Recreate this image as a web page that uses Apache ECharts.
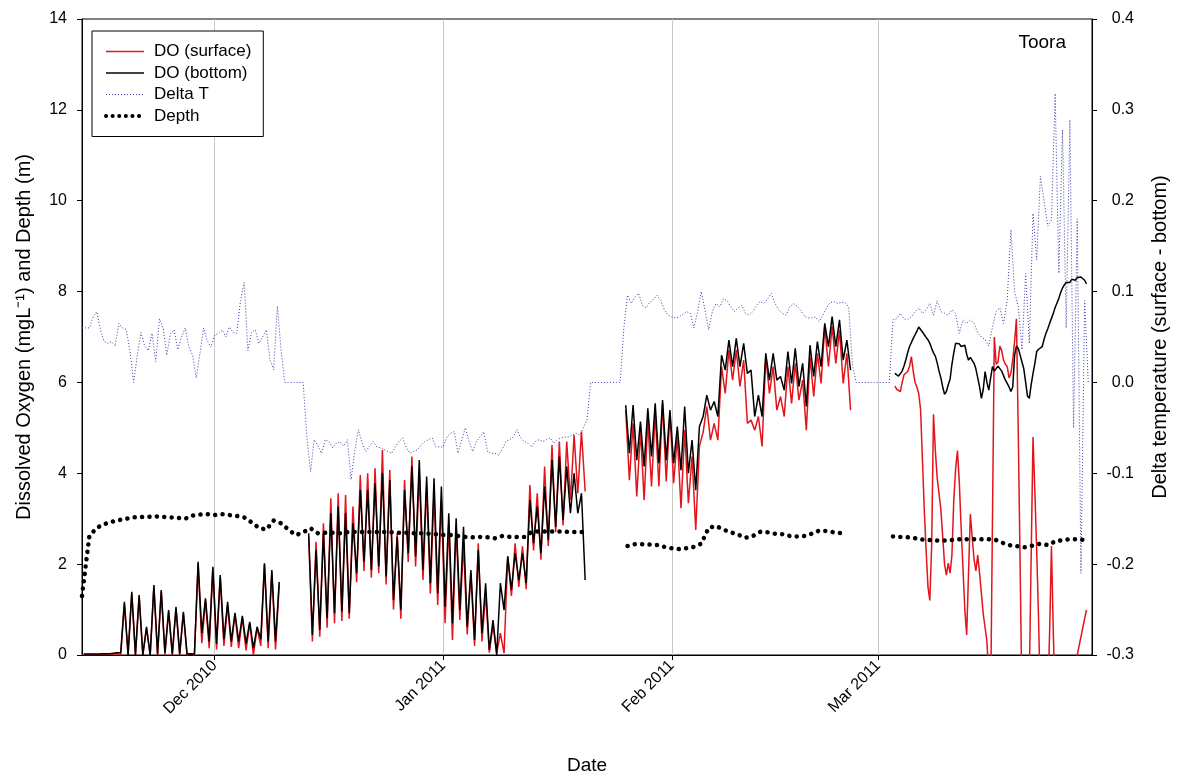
<!DOCTYPE html>
<html>
<head>
<meta charset="utf-8">
<script src="https://cdn.jsdelivr.net/npm/echarts@6/dist/echarts.min.js"></script>
<style>
html,body{margin:0;padding:0;background:#fff;}
#chart{width:1177px;height:778px;}
</style>
</head>
<body>
<div id="chart"></div>
<script>
// ---------------- DATA ----------------
const xStart = '2010-11-13T00:00:00';
const xEnd = '2011-03-30T00:00:00';
const monthNames = ['Jan','Feb','Mar','Apr','May','Jun','Jul','Aug','Sep','Oct','Nov','Dec'];
const leftTicks = [0, 2, 4, 6, 8, 10, 12, 14];
const rightTicks = [-0.3, -0.2, -0.1, 0.0, 0.1, 0.2, 0.3, 0.4];

// DO, 12-hourly (06:00 and 18:00) from 13 Nov 2010 06:00 to 25 Feb 2011 06:00
const doStart = '2010-11-13T06:00:00';
const doBottom12h = [
  0.02,0.02, 0.02,0.02, 0.02,0.03, 0.03,0.03, 0.04,0.05,
  0.05,1.17, 0.00,1.39, 0.00,1.32, 0.00,0.62, 0.00,1.54,
  0.02,1.43, 0.05,0.99, 0.02,1.06, 0.02,0.95, 0.02,0.03,
  0.02,2.05, 0.48,1.25, 0.30,1.94, 0.25,1.76, 0.35,1.17,
  0.30,0.93, 0.30,0.86, 0.25,0.73, 0.15,0.62, 0.35,2.02,
  0.30,1.87, 0.30,1.61, null,null, null,null, null,null,
  null,2.68, 0.44,2.31, 0.55,2.68, 0.81,3.12, 0.92,3.27,
  0.96,3.12, 0.92,2.90, 1.80,3.63, 2.06,3.63, 1.87,3.78,
  1.95,4.00, 1.73,3.85, 1.21,2.60, 0.99,3.63, 2.24,4.15,
  2.17,4.29, 1.87,3.93, 1.58,3.89, 1.36,3.71, 1.06,3.12,
  0.70,3.01, 0.99,2.82, 0.62,1.87, 0.33,2.31, 0.48,1.58,
  0.11,0.77, 0.00,1.58, 0.99,2.17, 1.43,2.24, 1.65,2.24,
  1.58,3.41, 2.46,3.27, 2.24,3.71, 2.53,4.29, 2.82,4.37,
  2.97,4.15, 3.12,4.00, 3.12,3.56, 1.65,null, null,null,
  null,null, null,null, null,null, null,5.50, 4.44,5.50,
  4.29,5.14, 4.15,5.43, 4.37,5.54, 4.22,5.61, 4.29,5.39,
  4.22,5.03, 4.07,5.47, 4.00,4.73, 3.63,5.03, 5.25,5.72,
  5.39,5.58, 5.25,6.60, 6.27,6.93, 6.35,6.97, 6.35,6.86,
  6.20,6.27, 5.25,5.72, 5.25,6.64, 6.05,6.64, 6.05,6.13,
  5.83,6.68, 5.98,6.75, 5.91,6.42, 5.47,6.82, 6.13,6.90,
  6.35,7.30, 6.79,7.45, 6.79,7.38, 6.49,6.93, 6.27
];
const doSurface12h = [
  0.01,0.01, 0.01,0.01, 0.01,0.01, 0.01,0.02, 0.02,0.03,
  0.00,1.12, 0.00,1.35, 0.00,1.28, 0.00,0.58, 0.00,1.50,
  0.00,1.40, 0.00,0.95, 0.00,1.02, 0.00,0.92, 0.00,0.02,
  0.00,2.00, 0.26,1.20, 0.15,1.90, 0.12,1.70, 0.20,1.10,
  0.18,0.90, 0.15,0.82, 0.10,0.70, 0.00,0.60, 0.20,2.00,
  0.15,1.82, 0.12,1.55, null,null, null,null, null,null,
  null,2.60, 0.30,2.49, 0.40,2.90, 0.60,3.45, 0.70,3.56,
  0.75,3.52, 0.80,3.27, 1.60,3.96, 1.85,4.00, 1.70,4.11,
  1.80,4.51, 1.55,4.07, 1.00,2.68, 0.80,3.85, 2.05,4.37,
  1.95,4.00, 1.65,3.71, 1.35,3.56, 1.10,3.41, 0.70,2.90,
  0.33,2.82, 0.77,2.46, 0.45,1.80, 0.20,2.46, 0.30,1.36,
  0.05,0.66, 0.04,0.48, 0.04,2.17, 1.30,2.46, 1.50,2.39,
  1.45,3.74, 2.30,3.56, 2.10,4.15, 2.40,4.62, 2.70,4.70,
  2.85,4.70, 3.41,4.84, 3.56,4.92, 3.60,null, null,null,
  null,null, null,null, null,null, null,5.39, 3.85,5.10,
  3.49,4.95, 3.41,5.17, 3.71,5.32, 3.71,5.54, 3.82,5.32,
  3.78,4.81, 3.23,4.95, 3.34,4.37, 2.75,4.60, 4.90,5.47,
  4.73,5.10, 4.73,6.35, 5.76,6.71, 6.05,6.71, 5.91,6.49,
  5.10,5.17, 4.95,5.25, 4.59,6.57, 5.76,6.35, 5.39,5.69,
  5.25,6.35, 5.54,6.42, 5.61,6.05, 4.95,6.57, 5.69,6.64,
  5.98,7.23, 6.35,7.23, 6.42,7.15, 5.98,6.64, 5.39
];

// DO, 6-hourly from 3 Mar 2011 06:00 to 29 Mar 2011 06:00
const marchStart = '2011-03-03T06:00:00';
const marchBottom = [
  6.20,6.18,6.14,6.13, 6.25,6.36,6.50,6.66, 6.79,6.88,6.97,7.05, 7.13,7.22,7.20,7.11,
  7.05,6.99,6.94,6.86, 6.75,6.65,6.58,6.43, 6.25,6.10,5.90,5.74, 5.80,5.95,6.07,6.40,
  6.65,6.86,6.90,6.85, 6.79,6.80,6.82,6.62, 6.49,6.55,6.58,6.42, 6.30,6.10,5.90,5.65,
  5.85,6.24,6.00,5.83, 6.10,6.35,6.25,6.22, 6.36,6.33,6.25,6.15, 6.05,5.98,5.90,5.80,
  5.90,6.60,6.80,6.75, 6.60,6.45,6.30,6.00, 5.70,5.65,5.95,6.20, 6.42,6.68,6.73,6.76,
  6.79,6.95,7.08,7.18, 7.30,7.41,7.52,7.65, 7.75,7.85,7.98,8.08, 8.15,8.20,8.23,8.20,
  8.27,8.29,8.25,8.31, 8.33,8.32,8.34,8.25, 8.17
];
const marchSurface = [
  5.92,5.85,5.82,5.80, 6.00,6.17,6.20,6.24, 6.35,6.57,6.25,6.00, 5.90,5.75,5.40,4.30,
  3.20,2.30,1.50,1.20, 2.40,5.30,4.50,3.90, 3.55,3.20,2.60,2.00, 1.76,2.02,1.80,2.20,
  3.40,4.10,4.50,3.80, 2.80,1.90,1.00,0.44, 1.80,3.10,2.60,2.10, 1.85,2.20,1.80,1.35,
  0.90,0.60,0.30,-0.50, -1.00,3.00,7.00,6.40, 6.45,6.80,6.70,6.49, 6.40,6.35,6.10,6.20,
  6.50,6.90,7.40,4.88, 2.00,-1.00,-1.00,-1.00, -1.00,-0.50,2.20,4.80, 3.60,2.30,0.80,-1.00,
  -1.00,-1.00,-1.00,-1.00, 0.50,2.40,0.50,-1.00, -1.00,-1.00,-1.00,-1.00, -1.00,-1.00,-1.00,-1.00,
  -1.00,-1.00,-1.00,0.00, 0.20,0.40,0.60,0.80, 0.99
];

// Delta T (surface - bottom), 12-hourly from 13 Nov 2010 00:00
const deltaTStart = '2010-11-13T00:00:00';
const deltaT12h = [
  0.060,0.060, 0.060,0.072, 0.078,0.058, 0.045,0.043, 0.045,0.040,
  0.065,0.060, 0.058,0.035, 0.000,0.030, 0.055,0.040, 0.035,0.054,
  0.023,0.070, 0.060,0.030, 0.054,0.058, 0.036,0.050, 0.060,0.039,
  0.030,0.005, 0.032,0.060, 0.045,0.039, 0.052,0.054, 0.058,0.050,
  0.061,0.055, 0.054,0.090, 0.110,0.035, 0.055,0.058, 0.043,0.050,
  0.058,0.025, 0.014,0.084, 0.036,0.000, 0.000,0.000, 0.000,0.000,
  0.000,-0.060, -0.098,-0.063, -0.070,-0.078, -0.063,-0.065, -0.072,-0.067,
  -0.065,-0.070, -0.063,-0.107, -0.075,-0.052, -0.067,-0.076, -0.070,-0.065,
  -0.071,-0.072, -0.074,-0.076, -0.078,-0.071, -0.065,-0.061, -0.072,-0.078,
  -0.076,-0.074, -0.069,-0.065, -0.063,-0.061, -0.071,-0.071, -0.071,-0.060,
  -0.056,-0.054, -0.078,-0.063, -0.050,-0.065, -0.076,-0.065, -0.060,-0.054,
  -0.076,-0.078, -0.078,-0.080, -0.074,-0.065, -0.063,-0.060, -0.052,-0.061,
  -0.065,-0.067, -0.071,-0.065, -0.063,-0.065, -0.063,-0.061, -0.067,-0.063,
  -0.061,-0.060, -0.060,-0.058, -0.056,-0.058, -0.050,-0.041, 0.000,0.000,
  0.000,0.000, 0.000,0.000, 0.000,0.000, 0.000,0.060, 0.096,0.087,
  0.094,0.098, 0.085,0.082, 0.088,0.091, 0.096,0.090, 0.080,0.074,
  0.072,0.071, 0.072,0.075, 0.078,0.076, 0.060,0.078, 0.100,0.080,
  0.058,0.078, 0.087,0.083, 0.092,0.090, 0.083,0.078, 0.082,0.085,
  0.076,0.074, 0.078,0.085, 0.089,0.087, 0.092,0.098, 0.087,0.080,
  0.076,0.074, 0.083,0.087, 0.084,0.079, 0.073,0.071, 0.071,0.072,
  0.067,0.074, 0.082,0.088, 0.089,0.087, 0.088,0.088, 0.083,0.020,
  0.000,0.000, 0.000,0.000, 0.000,0.000, 0.000,0.000, 0.000,0.000,
  0.069,0.070, 0.076,0.070, 0.069,0.072, 0.078,0.082, 0.076,0.080,
  0.087,0.074, 0.090,0.078, 0.076,0.074, 0.080,0.076, 0.054,0.069,
  0.065,0.069, 0.065,0.055, 0.050,0.047, 0.040,0.061, 0.078,0.082,
  0.065,0.091, 0.168,0.100, 0.083,0.036, 0.120,0.043, 0.186,0.135,
  0.227,0.200, 0.172,0.179, 0.318,0.120, 0.278,0.060, 0.289,-0.050,
  0.180,-0.210, 0.090,0.000
];

// Depth (m), daily from 13 Nov 2010 00:00
const depthStart = '2010-11-13T00:00:00';
const depthDaily = [
  1.30,2.62,2.80,2.88,2.93,2.97,3.00,3.03,3.04,3.04,
  3.05,3.04,3.03,3.02,3.00,3.07,3.09,3.10,3.08,3.10,
  3.08,3.06,3.03,2.92,2.80,2.76,2.96,2.90,2.76,2.64,
  2.70,2.79,2.68,2.69,2.69,2.68,2.70,2.71,2.71,2.71,
  2.71,2.71,2.70,2.69,2.69,2.68,2.68,2.67,2.66,2.64,
  2.64,2.62,2.60,2.59,2.60,2.59,2.57,2.62,2.60,2.60,
  2.60,2.71,2.72,2.72,2.72,2.72,2.71,2.71,2.71,null,
  null,null,null,null,2.40,2.44,2.44,2.43,2.42,2.38,
  2.35,2.33,2.35,2.38,2.45,2.80,2.84,2.76,2.70,2.65,
  2.58,2.62,2.71,2.70,2.67,2.66,2.62,2.61,2.62,2.67,
  2.74,2.73,2.70,2.68,null,null,null,null,null,null,
  2.61,2.60,2.59,2.57,2.54,2.53,2.52,2.52,2.53,2.55,
  2.55,2.55,2.55,2.55,2.53,2.46,2.41,2.39,2.37,2.41,
  2.45,2.42,2.50,2.53,2.55,2.55,2.53
];

// ---------------- BUILD ----------------
const HOUR = 3600 * 1000;
function toPoints(start, stepHours, values) {
  const t0 = new Date(start).getTime();
  return values.map((v, i) => [t0 + i * stepHours * HOUR, v]);
}
const gapPoint = [[new Date('2011-02-28T00:00:00').getTime(), null]];
const surfaceData = toPoints(doStart, 12, doSurface12h).concat(gapPoint, toPoints(marchStart, 6, marchSurface));
const bottomData = toPoints(doStart, 12, doBottom12h).concat(gapPoint, toPoints(marchStart, 6, marchBottom));
const deltaData = toPoints(deltaTStart, 12, deltaT12h);
const depthData = toPoints(depthStart, 24, depthDaily);

const FONT = "'Liberation Sans', Arial, sans-serif";
const RED = '#e3141b', BLUE = '#3a3aa8';
const depthLine = {color: '#000', width: 4.5, type: [0.1, 7.3], cap: 'round'};
const chart = echarts.init(document.getElementById('chart'), null, {renderer: 'canvas'});
chart.setOption({
  animation: false,
  backgroundColor: '#fff',
  textStyle: {fontFamily: FONT, color: '#000'},
  title: {
    text: 'Toora', right: 111, top: 33, padding: 0,
    textStyle: {fontFamily: FONT, fontSize: 19, fontWeight: 'normal', color: '#000'}
  },
  legend: {
    orient: 'vertical', left: 92, top: 31,
    padding: [12, 12, 12, 12], itemGap: 4.5, itemWidth: 38, itemHeight: 14,
    backgroundColor: '#fff', borderColor: '#000', borderWidth: 1,
    itemStyle: {opacity: 0},
    textStyle: {fontFamily: FONT, fontSize: 17, color: '#000', padding: [0, 0, 0, 5]},
    data: [
      {name: 'DO (surface)', lineStyle: {color: RED, width: 1.5}},
      {name: 'DO (bottom)', lineStyle: {color: '#000', width: 1.5}},
      {name: 'Delta T', lineStyle: {color: BLUE, width: 1, type: [1, 2]}},
      {name: 'Depth', lineStyle: {color: '#000', width: 4, type: [0.1, 6.5], cap: 'round'}}
    ]
  },
  grid: {left: 82, right: 85, top: 19, bottom: 123, show: true, borderColor: '#000', borderWidth: 1,
    containLabel: false, outerBoundsMode: 'none'},
  xAxis: {
    type: 'time',
    min: new Date(xStart).getTime(), max: new Date(xEnd).getTime(),
    minInterval: 28 * 24 * HOUR, maxInterval: 31 * 24 * HOUR,
    name: 'Date', nameLocation: 'middle', nameGap: 101,
    nameTextStyle: {fontFamily: FONT, fontSize: 19, color: '#000'},
    axisLine: {show: true, lineStyle: {color: '#000', width: 1}},
    axisTick: {show: true, inside: false, length: 5, lineStyle: {color: '#000'}},
    splitLine: {show: true, lineStyle: {color: '#c8c8c8', width: 1}},
    axisLabel: {
      rotate: 45, fontSize: 16, color: '#000', fontFamily: FONT, margin: 8,
      showMinLabel: false, showMaxLabel: false, hideOverlap: false,
      formatter: function (val) {
        const d = new Date(val);
        if (d.getDate() !== 1) return '';
        return monthNames[d.getMonth()] + ' ' + d.getFullYear();
      }
    }
  },
  yAxis: [{
    type: 'value', min: leftTicks[0], max: leftTicks[leftTicks.length - 1], interval: 2,
    name: 'Dissolved Oxygen (mgL\u207B\u00B9) and Depth (m)', nameLocation: 'middle', nameGap: 48,
    nameTextStyle: {fontFamily: FONT, fontSize: 20, color: '#000'},
    axisLine: {show: true, lineStyle: {color: '#000'}},
    axisTick: {show: true, length: 5, lineStyle: {color: '#000'}},
    splitLine: {show: false},
    axisLabel: {fontSize: 16, color: '#000', fontFamily: FONT, margin: 15}
  }, {
    type: 'value', min: rightTicks[0], max: rightTicks[rightTicks.length - 1], interval: 0.1,
    position: 'right',
    name: 'Delta temperature (surface - bottom)', nameLocation: 'middle', nameGap: 58,
    nameTextStyle: {fontFamily: FONT, fontSize: 20, color: '#000'},
    axisLine: {show: true, lineStyle: {color: '#000'}},
    axisTick: {show: true, length: 5, lineStyle: {color: '#000'}},
    splitLine: {show: false},
    axisLabel: {fontSize: 16, color: '#000', fontFamily: FONT, margin: 42, align: 'right',
      formatter: v => (Math.abs(v) < 1e-9 ? 0 : v).toFixed(1)}
  }],
  series: [{
    name: 'DO (surface)', type: 'line', data: surfaceData, yAxisIndex: 0,
    symbol: 'none', showSymbol: false, connectNulls: false, clip: true,
    lineStyle: {color: RED, width: 1.5}, itemStyle: {color: RED}
  }, {
    name: 'DO (bottom)', type: 'line', data: bottomData, yAxisIndex: 0,
    symbol: 'none', showSymbol: false, connectNulls: false, clip: true,
    lineStyle: {color: '#000', width: 1.5}, itemStyle: {color: '#000'}
  }, {
    name: 'Delta T', type: 'line', data: deltaData, yAxisIndex: 1,
    symbol: 'none', showSymbol: false, clip: true,
    lineStyle: {color: BLUE, width: 1, type: [1, 2]}, itemStyle: {color: BLUE}
  }, {
    name: 'Depth', type: 'line', data: depthData, yAxisIndex: 0,
    symbol: 'none', showSymbol: false, connectNulls: false, clip: true,
    lineStyle: depthLine, itemStyle: {color: '#000'}
  }]
});
</script>
</body>
</html>
